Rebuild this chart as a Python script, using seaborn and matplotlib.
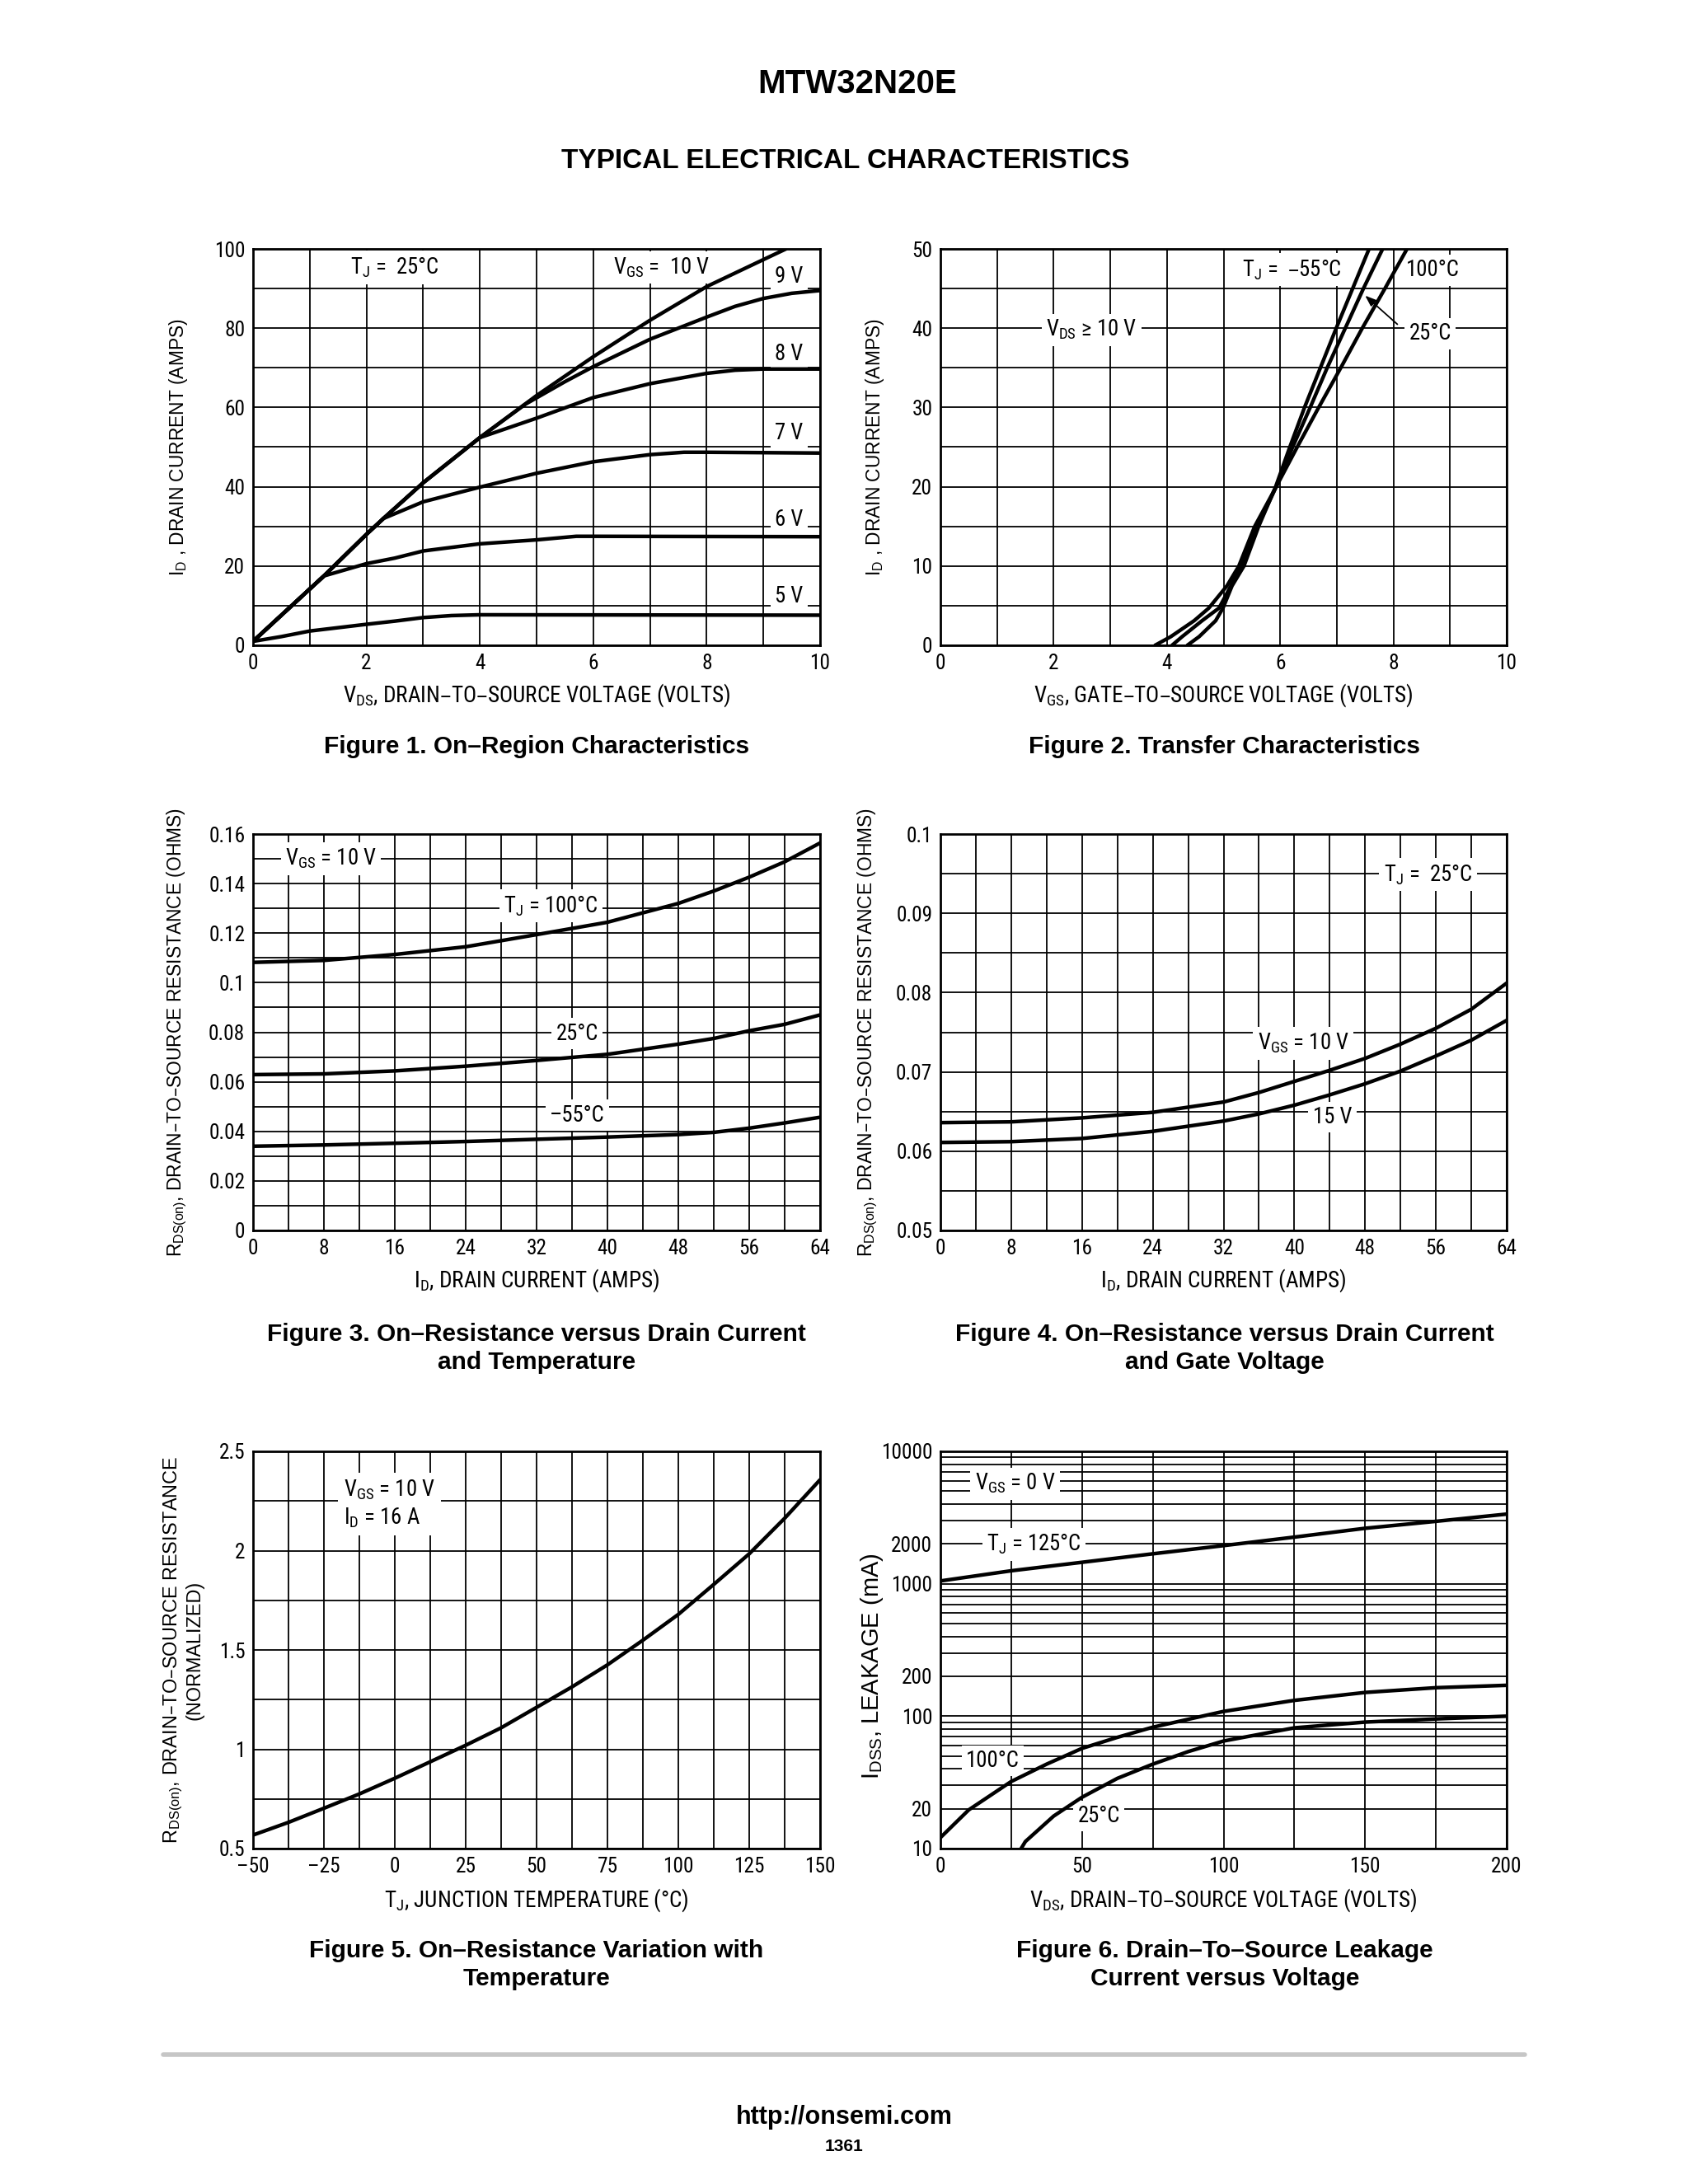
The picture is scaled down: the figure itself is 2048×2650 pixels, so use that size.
import numpy as np
import pandas as pd
import matplotlib
matplotlib.use("Agg")
import matplotlib.pyplot as plt
import seaborn as sns
from matplotlib import font_manager as fm
from matplotlib.ticker import FixedLocator, NullFormatter
from matplotlib.lines import Line2D

# ------------------------------------------------------------------ data
# Figure 1: On-Region Characteristics (VDS in V, ID in A)
f1_vds_10v = [0, 0.5, 1.25, 2, 2.3, 3, 4, 5, 6, 7, 8, 9, 9.4]
f1_id_10v = [1, 7.6, 17.5, 28, 32, 41, 52.4, 63, 72.8, 82, 90.5, 97.3, 100]
f1_vds_9v = [0, 0.5, 1.25, 2, 2.3, 3, 4, 4.8, 5.5, 6, 7, 8, 8.5, 9, 9.5, 10]
f1_id_9v = [1, 7.6, 17.5, 28, 32, 41, 52.4, 60.8, 66.5, 70.3, 77.2, 82.8, 85.5, 87.5, 88.8, 89.5]
f1_vds_8v = [0, 0.5, 1.25, 2, 2.3, 3, 4, 5, 6, 7, 8, 8.5, 9, 10]
f1_id_8v = [1, 7.6, 17.5, 28, 32, 41, 52.4, 57.3, 62.5, 66, 68.6, 69.4, 69.7, 69.7]
f1_vds_7v = [0, 0.5, 1.25, 2, 2.3, 3, 4, 5, 6, 7, 7.6, 8, 10]
f1_id_7v = [1, 7.6, 17.5, 28, 32, 36.2, 39.9, 43.4, 46.3, 48.1, 48.7, 48.7, 48.5]
f1_vds_6v = [0, 0.5, 1.25, 2, 2.5, 3, 4, 5, 5.7, 6, 10]
f1_id_6v = [1, 7.6, 17.5, 20.6, 22, 23.8, 25.6, 26.6, 27.5, 27.5, 27.4]
f1_vds_5v = [0, 0.5, 1, 2, 2.5, 3, 3.5, 4, 10]
f1_id_5v = [1, 2.2, 3.6, 5.3, 6.1, 7.0, 7.5, 7.7, 7.6]

# Figure 2: Transfer Characteristics (ID in A, VGS in V)
f2_id = [0, 1.1, 3.1, 4.7, 7.5, 10, 15, 20, 25, 30, 35, 40, 45, 50]
f2_vgs_m55 = [4.36, 4.57, 4.86, 4.99, 5.15, 5.36, 5.62, 5.92, 6.17, 6.43, 6.71, 6.99, 7.28, 7.57]
f2_vgs_25 = [4.09, 4.27, 4.62, 4.92, 5.13, 5.3, 5.6, 5.93, 6.22, 6.53, 6.83, 7.15, 7.47, 7.81]
f2_vgs_100 = [3.79, 4.07, 4.48, 4.74, 5.06, 5.27, 5.55, 5.93, 6.3, 6.68, 7.07, 7.45, 7.85, 8.24]

# Figure 3: RDS(on) vs ID and temperature
f3_id = [0, 8, 16, 24, 32, 40, 48, 52, 56, 60, 64]
f3_r_100 = [0.1082, 0.109, 0.1114, 0.1145, 0.1194, 0.1244, 0.132, 0.137, 0.1426, 0.1488, 0.1564]
f3_r_25 = [0.0629, 0.0632, 0.0644, 0.0663, 0.0686, 0.0711, 0.0752, 0.0775, 0.0806, 0.0832, 0.087]
f3_r_m55 = [0.034, 0.0345, 0.0352, 0.0359, 0.0368, 0.0377, 0.0387, 0.0396, 0.0413, 0.0434, 0.0457]

# Figure 4: RDS(on) vs ID and gate voltage
f4_id = [0, 8, 16, 24, 32, 36, 40, 44, 48, 52, 56, 60, 64]
f4_r_10v = [0.0636, 0.0637, 0.0642, 0.0649, 0.0662, 0.0674, 0.0688, 0.0702, 0.0717, 0.0735, 0.0755, 0.0779, 0.0812]
f4_r_15v = [0.0611, 0.0612, 0.0616, 0.0625, 0.0638, 0.0647, 0.0658, 0.0671, 0.0685, 0.0701, 0.0720, 0.0740, 0.0765]

# Figure 5: normalized RDS(on) vs junction temperature
f5_tj = [-50, -37.5, -25, -12.5, 0, 12.5, 25, 37.5, 50, 62.5, 75, 87.5, 100, 112.5, 125, 137.5, 150]
f5_rn = [0.568, 0.632, 0.703, 0.775, 0.854, 0.937, 1.02, 1.108, 1.211, 1.314, 1.425, 1.549, 1.679,
         1.83, 1.984, 2.163, 2.357]

# Figure 6: drain-to-source leakage vs voltage
f6_vds_125 = [0, 25, 50, 75, 100, 125, 150, 175, 200]
f6_i_125 = [1050, 1253, 1452, 1683, 1941, 2250, 2623, 2960, 3357]
f6_vds_100 = [0, 10, 25, 37.5, 50, 62.5, 75, 100, 125, 150, 175, 200]
f6_i_100 = [12.1, 19.6, 32.1, 43.4, 57.1, 69.2, 82.5, 108.6, 131.6, 151, 164, 171]
f6_vds_25 = [28.5, 30, 35, 40, 50, 62.5, 75, 87.5, 100, 125, 150, 175, 200]
f6_i_25 = [10, 11.3, 14.1, 17.6, 24.4, 33.9, 43.4, 54, 64.9, 81.6, 90.2, 95.3, 100]

# tick labels
f1_xticks = [0, 2, 4, 6, 8, 10]
f1_yticks = [0, 20, 40, 60, 80, 100]
f2_yticks = [0, 10, 20, 30, 40, 50]
f3_xticks = [0, 8, 16, 24, 32, 40, 48, 56, 64]
f3_yticks = [0, 0.02, 0.04, 0.06, 0.08, 0.1, 0.12, 0.14, 0.16]
f3_ylabels = ["0", "0.02", "0.04", "0.06", "0.08", "0.1", "0.12", "0.14", "0.16"]
f4_yticks = [0.05, 0.06, 0.07, 0.08, 0.09, 0.1]
f4_ylabels = ["0.05", "0.06", "0.07", "0.08", "0.09", "0.1"]
f5_xticks = [-50, -25, 0, 25, 50, 75, 100, 125, 150]
f5_xlabels = ["\u201350", "\u201325", "0", "25", "50", "75", "100", "125", "150"]
f5_yticks = [0.5, 1, 1.5, 2, 2.5]
f5_ylabels = ["0.5", "1", "1.5", "2", "2.5"]
f6_xticks = [0, 50, 100, 150, 200]
f6_yticks = [10, 20, 100, 200, 1000, 2000, 10000]
f6_ylabels = ["10", "20", "100", "200", "1000", "2000", "10000"]

# ------------------------------------------------------------------ style
sns.set_style("white")


def pick_narrow():
    entries = fm.fontManager.ttflist
    names = {e.name for e in entries}
    for nm in ["Liberation Sans Narrow", "Arial Narrow", "Roboto Condensed",
               "Open Sans Condensed", "Noto Sans Condensed", "DejaVu Sans Condensed"]:
        if nm in names:
            return nm, "normal"
    for nm in ["Roboto", "Noto Sans", "Open Sans", "Inter", "Lato", "DejaVu Sans"]:
        for e in entries:
            if (e.name == nm and str(e.stretch) in ("condensed", "semi-condensed")
                    and e.style == "normal" and str(e.weight) in ("400", "normal", "regular", "book")):
                return nm, str(e.stretch)
    return None, None


NF, NSTRETCH = pick_narrow()
if NF:
    NARROW = [NF, "DejaVu Sans"]
    SC = 1.0
else:
    NARROW = ["Liberation Sans", "DejaVu Sans"]
    NSTRETCH = "normal"
    SC = 0.9
REG = ["Liberation Sans", "DejaVu Sans"]
plt.rcParams["font.family"] = NARROW
plt.rcParams["font.stretch"] = NSTRETCH
plt.rcParams["mathtext.default"] = "regular"
plt.rcParams["text.color"] = "black"
plt.rcParams["axes.edgecolor"] = "black"

W, H = 2048, 2650
fig = plt.figure(figsize=(W / 100, H / 100), dpi=100)
fig.patch.set_facecolor("white")

CURVE_LW = 3.2
GRID_LW = 1.3
TICK_FS = 18.3 * (1.0 if NF else 0.95)
LAB_FS = 19.5 * SC
IN_FS = 19.3 * SC
YLAB_FS = 16.4


def px_axes(x0, y0, x1, y1):
    return fig.add_axes([x0 / W, 1 - y1 / H, (x1 - x0) / W, (y1 - y0) / H])


LX0, LX1 = 307, 995
RX0, RX1 = 1141, 1828
ROWS = [(302, 783), (1012, 1493), (1761, 2243)]


def style(ax, xlim, ylim, xmaj, xmin, ymaj, ymin, xlab=None, ylab=None):
    ax.set_xlim(*xlim)
    ax.set_ylim(*ylim)
    if xlab is None:
        xlab = [str(v) for v in xmaj]
    if ylab is None:
        ylab = [str(v) for v in ymaj]
    ax.set_xticks(xmaj, xlab, fontsize=TICK_FS, family=NARROW, stretch=NSTRETCH)
    ax.set_yticks(ymaj, ylab, fontsize=TICK_FS, family=NARROW, stretch=NSTRETCH)
    ax.xaxis.set_minor_locator(FixedLocator(xmin))
    ax.yaxis.set_minor_locator(FixedLocator(ymin))
    ax.xaxis.set_minor_formatter(NullFormatter())
    ax.yaxis.set_minor_formatter(NullFormatter())
    ax.set_axisbelow(True)
    ax.grid(which="both", color="black", lw=GRID_LW)
    ax.tick_params(which="both", length=0, pad=7, colors="black")
    for s in ax.spines.values():
        s.set_visible(True)
        s.set_linewidth(2.0)
        s.set_color("black")
        s.set_zorder(6)
    ax.set_xlabel("")
    ax.set_ylabel("")


def curve(ax, x, y):
    df = pd.DataFrame({"x": x, "y": y})
    sns.lineplot(data=df, x="x", y="y", ax=ax, color="black", lw=CURVE_LW,
                 estimator=None, sort=False, zorder=4)


def lab(ax, x, y, s, ha="center", va="center", fs=None, **kw):
    ax.text(x, y, s, ha=ha, va=va, fontsize=fs or IN_FS, zorder=3,
            bbox=dict(boxstyle="square,pad=0.2", fc="white", ec="none"), **kw)


def xlabel(ax, s, y):
    ax.text(0.5, y, s, transform=ax.transAxes, ha="center", va="center", fontsize=LAB_FS)


def ylabel(ax, s, x, y=0.5, fs=None):
    ax.text(x, y, s, transform=ax.transAxes, ha="center", va="center", rotation=90,
            fontsize=fs or YLAB_FS, family=REG, stretch="normal")


# ---------------- Figure 1
ax1 = px_axes(LX0, ROWS[0][0], LX1, ROWS[0][1])
for xs, ys in [(f1_vds_10v, f1_id_10v), (f1_vds_9v, f1_id_9v), (f1_vds_8v, f1_id_8v),
               (f1_vds_7v, f1_id_7v), (f1_vds_6v, f1_id_6v), (f1_vds_5v, f1_id_5v)]:
    curve(ax1, xs, ys)
style(ax1, (0, 10), (0, 100), f1_xticks, np.arange(0, 11, 1), f1_yticks, np.arange(0, 101, 10))
lab(ax1, 2.5, 95.3, "T$_J$ =  25\u00b0C")
lab(ax1, 7.2, 95.3, "V$_{GS}$ =  10 V")
lab(ax1, 9.45, 93.0, "9 V")
lab(ax1, 9.45, 73.5, "8 V")
lab(ax1, 9.45, 53.6, "7 V")
lab(ax1, 9.45, 31.8, "6 V")
lab(ax1, 9.45, 12.3, "5 V")
xlabel(ax1, "V$_{DS}$, DRAIN\u2013TO\u2013SOURCE VOLTAGE (VOLTS)", -0.125)
ylabel(ax1, "I$_D$ , DRAIN CURRENT (AMPS)", -0.131)

# ---------------- Figure 2
ax2 = px_axes(RX0, ROWS[0][0], RX1, ROWS[0][1])
for xs in [f2_vgs_m55, f2_vgs_25, f2_vgs_100]:
    curve(ax2, xs, f2_id)
style(ax2, (0, 10), (0, 50), f1_xticks, np.arange(0, 11, 1), f2_yticks, np.arange(0, 51, 5))
lab(ax2, 6.2, 47.4, "T$_J$ =  \u201355\u00b0C")
lab(ax2, 8.7, 47.3, "100\u00b0C")
lab(ax2, 2.67, 39.8, "V$_{DS}$ \u2265 10 V")
lab(ax2, 8.65, 39.3, "25\u00b0C")
ax2.annotate("", xy=(7.47, 44.3), xytext=(8.1, 40.3),
             arrowprops=dict(arrowstyle="-|>,head_length=0.8,head_width=0.3", color="black", lw=1.3),
             zorder=5)
xlabel(ax2, "V$_{GS}$, GATE\u2013TO\u2013SOURCE VOLTAGE (VOLTS)", -0.125)
ylabel(ax2, "I$_D$ , DRAIN CURRENT (AMPS)", -0.116)

# ---------------- Figure 3
ax3 = px_axes(LX0, ROWS[1][0], LX1, ROWS[1][1])
for ys in [f3_r_100, f3_r_25, f3_r_m55]:
    curve(ax3, f3_id, ys)
style(ax3, (0, 64), (0, 0.16), f3_xticks, np.arange(0, 65, 4), f3_yticks,
      np.linspace(0, 0.16, 17), ylab=f3_ylabels)
lab(ax3, 8.8, 0.150, "V$_{GS}$ = 10 V")
lab(ax3, 33.6, 0.131, "T$_J$ = 100\u00b0C")
lab(ax3, 36.6, 0.0795, "25\u00b0C")
lab(ax3, 36.6, 0.0465, "\u201355\u00b0C")
xlabel(ax3, "I$_D$, DRAIN CURRENT (AMPS)", -0.127)
ylabel(ax3, "R$_{DS(on)}$, DRAIN\u2013TO\u2013SOURCE RESISTANCE (OHMS)", -0.134)

# ---------------- Figure 4
ax4 = px_axes(RX0, ROWS[1][0], RX1, ROWS[1][1])
for ys in [f4_r_10v, f4_r_15v]:
    curve(ax4, f4_id, ys)
style(ax4, (0, 64), (0.05, 0.1), f3_xticks, np.arange(0, 65, 4), f4_yticks,
      np.linspace(0.05, 0.1, 11), ylab=f4_ylabels)
lab(ax4, 55.1, 0.0949, "T$_J$ =  25\u00b0C")
lab(ax4, 41.0, 0.0736, "V$_{GS}$ = 10 V")
lab(ax4, 44.3, 0.0643, "15 V")
xlabel(ax4, "I$_D$, DRAIN CURRENT (AMPS)", -0.127)
ylabel(ax4, "R$_{DS(on)}$, DRAIN\u2013TO\u2013SOURCE RESISTANCE (OHMS)", -0.128)

# ---------------- Figure 5
ax5 = px_axes(LX0, ROWS[2][0], LX1, ROWS[2][1])
curve(ax5, f5_tj, f5_rn)
style(ax5, (-50, 150), (0.5, 2.5), f5_xticks, np.arange(-50, 151, 12.5), f5_yticks,
      np.arange(0.5, 2.51, 0.25), xlab=f5_xlabels, ylab=f5_ylabels)
ax5.text(-18, 2.235, "V$_{GS}$ = 10 V\nI$_D$ = 16 A", ha="left", va="center", fontsize=IN_FS,
         linespacing=1.25, zorder=3,
         bbox=dict(boxstyle="square,pad=0.25", fc="white", ec="none"))
xlabel(ax5, "T$_J$, JUNCTION TEMPERATURE (\u00b0C)", -0.129)
ylabel(ax5, "R$_{DS(on)}$, DRAIN\u2013TO\u2013SOURCE RESISTANCE", -0.140, fs=16.9)
ylabel(ax5, "(NORMALIZED)", -0.103, fs=16.9)

# ---------------- Figure 6
ax6 = px_axes(RX0, ROWS[2][0], RX1, ROWS[2][1])
for xs, ys in [(f6_vds_125, f6_i_125), (f6_vds_100, f6_i_100), (f6_vds_25, f6_i_25)]:
    curve(ax6, xs, ys)
ax6.set_yscale("log")
minor6 = [k * 10 ** n for n in range(1, 4) for k in range(1, 10)] + [10000]
style(ax6, (0, 200), (10, 10000), f6_xticks, np.arange(0, 201, 25), f6_yticks, minor6,
      ylab=f6_ylabels)
lab(ax6, 26.3, 5700, "V$_{GS}$ = 0 V")
lab(ax6, 33.0, 1990, "T$_J$ = 125\u00b0C")
lab(ax6, 18.5, 46, "100\u00b0C")
lab(ax6, 56.0, 17.6, "25\u00b0C")
xlabel(ax6, "V$_{DS}$, DRAIN\u2013TO\u2013SOURCE VOLTAGE (VOLTS)", -0.129)
ylabel(ax6, "I$_{DSS}$, LEAKAGE (mA)", -0.121, 0.459, fs=21)


# ---------------- page text
def ftext(x, y, s, fs, weight="bold", **kw):
    fig.text(x / W, 1 - y / H, s, ha="center", va="center", fontsize=fs,
             fontweight=weight, family=REG, stretch="normal", **kw)


ftext(1040, 102, "MTW32N20E", 29)
ftext(1026, 195, "TYPICAL ELECTRICAL CHARACTERISTICS", 24)
ftext(651, 906, "Figure 1. On\u2013Region Characteristics", 21.5)
ftext(1486, 906, "Figure 2. Transfer Characteristics", 21.5)
ftext(651, 1636, "Figure 3. On\u2013Resistance versus Drain Current\nand Temperature", 21.5,
      linespacing=1.3)
ftext(1486, 1636, "Figure 4. On\u2013Resistance versus Drain Current\nand Gate Voltage", 21.5,
      linespacing=1.3)
ftext(651, 2384, "Figure 5. On\u2013Resistance Variation with\nTemperature", 21.5,
      linespacing=1.3)
ftext(1486, 2384, "Figure 6. Drain\u2013To\u2013Source Leakage\nCurrent versus Voltage", 21.5,
      linespacing=1.3)
fig.add_artist(Line2D([198 / W, 1850 / W], [1 - 2493 / H] * 2, color="#c6c6c6", lw=4))
ftext(1024, 2569, "http://onsemi.com", 22)
ftext(1024, 2605, "1361", 15)

fig.savefig("out.png", dpi=100, facecolor="white")
